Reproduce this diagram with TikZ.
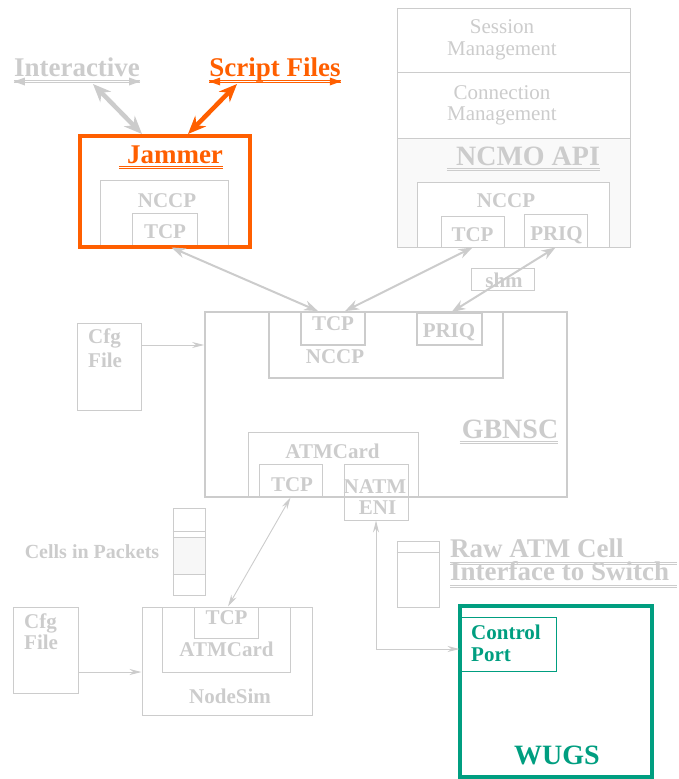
\documentclass[tikz,border=0pt]{standalone}
\usepackage{fontspec}
\setmainfont{Liberation Serif}
\usepackage{tikz}
\usetikzlibrary{arrows.meta}
\definecolor{lgray}{RGB}{204,204,204}
\definecolor{jamorange}{RGB}{255,95,0}
\definecolor{wugsgreen}{RGB}{0,158,128}

\begin{document}
\begin{tikzpicture}[x=1pt, y=-1pt, >={Stealth[length=13pt,width=8pt]},
  box/.style={draw=lgray, line width=1pt, inner sep=0pt},
  thickbox/.style={box, line width=1.8pt},
  big/.style={inner sep=0pt, anchor=base, text=lgray, font=\bfseries\fontsize{27}{27}\selectfont},
  small/.style={inner sep=0pt, anchor=base, text=lgray, font=\bfseries\fontsize{21}{21}\selectfont},
  plain/.style={inner sep=0pt, anchor=base, text=lgray, font=\fontsize{21}{21}\selectfont},
  uline/.style={line width=0.9pt},
  link/.style={lgray, line width=2pt, <->, >={Stealth[length=14pt,width=10pt]}},
  thin link/.style={lgray, line width=0.9pt, >={Stealth[length=12pt,width=6pt]}},
  fat link/.style={line width=4.5pt, <->, >={Stealth[length=18pt,width=15pt]}}]%

\useasboundingbox (0,0) rectangle (678,779);

% ncmo stack
\node [box, fill=gray!5, minimum width=233, minimum height=109] (ncmo) at (513.5,192.5) {};
\node [box, fill=white, minimum width=192, minimum height=65] (ncmo-nccp) at (513,214.5) {};

\foreach \n/\cx/\cy/\w/\h in {session/513.5/40/233/64, connection/513.5/105/233/66,
    ncmo-tcp/472.5/231.5/63/31, ncmo-priq/555.5/230.5/63/33, shm/502.5/279/63/22,
    jam-nccp/164/213.5/128/67, jam-tcp/164.5/230/65/34,
    gb-atm/333/464.5/170/65, gb-atm-tcp/290.5/480.5/63/33, natm/376/492/64/56,
    cfg1/109/366.5/64/87, cfg2/45.5/650/65/86,
    nodesim/227/661/170/108, ns-atm/226/639.5/128/65, ns-tcp/226/622.5/64/31}
  \node [box, minimum width=\w, minimum height=\h] (\n) at (\cx,\cy) {};

\foreach \n/\cx/\cy/\w/\h in {gbnsc/386/404.5/362/185, gb-nccp/386/345/234/66,
    gb-tcp/333/328.5/64/33, gb-priq/449.5/329/65/32}
  \node [thickbox, minimum width=\w, minimum height=\h] (\n) at (\cx,\cy) {};

% packet and cell icons
\node [box, minimum width=32, minimum height=87] (cells) at (189,551.5) {};
\fill [gray!6] ([xshift=1pt]cells.west |- 0,537) rectangle ([xshift=-1pt]cells.east |- 0,574);
\foreach \y in {531,537,574}
  \draw [lgray, line width=0.8pt] (cells.west |- 0,\y) -- (cells.east |- 0,\y);
\node [box, minimum width=42, minimum height=66] (raw) at (418,574) {};
\draw [lgray, line width=0.8pt] (raw.west |- 0,552) -- (raw.east |- 0,552);

\node [draw=jamorange, line width=4pt, inner sep=0pt, minimum width=170, minimum height=111] (jammer) at (165,191.5) {};
\node [draw=wugsgreen, line width=4pt, inner sep=0pt, minimum width=192, minimum height=171] (wugs) at (556,691.5) {};
\node [draw=wugsgreen, line width=1pt, inner sep=0pt, minimum width=96, minimum height=54] (ctrl) at (508,644) {};

% labels
\node [big] (interactive) at (77,76) {Interactive};
\node [big, text=jamorange] (script) at (275,76) {Script Files};
\node [big, text=jamorange] (jammer-lbl) at (175,163) {Jammer};
\node [small] (jam-nccp-lbl) at (167,207) {NCCP};
\node [small] (jam-tcp-lbl) at (165,238) {TCP};

\node [plain] (session-1) at (502,33) {Session};
\node [plain] (session-2) at (502,55) {Management};
\node [plain] (connection-1) at (502,99) {Connection};
\node [plain] (connection-2) at (502,120) {Management};
\node [big, font=\bfseries\fontsize{28}{28}\selectfont] (ncmo-lbl) at (528,165) {NCMO API};
\node [small] (ncmo-nccp-lbl) at (506,207) {NCCP};
\node [small] (ncmo-tcp-lbl) at (472.5,241) {TCP};
\node [small] (ncmo-priq-lbl) at (556.5,240) {PRIQ};
\node [small] (shm-lbl) at (504,287) {shm};

\node [small] (gb-tcp-lbl) at (333,330) {TCP};
\node [small] (gb-nccp-lbl) at (335,363) {NCCP};
\node [small] (gb-priq-lbl) at (449,337) {PRIQ};
\node [big, font=\bfseries\fontsize{28}{28}\selectfont] (gbnsc-lbl) at (510,438) {GBNSC};
\node [small] (gb-atm-lbl) at (332.5,458) {ATMCard};
\node [small] (gb-atm-tcp-lbl) at (292,491) {TCP};
\node [small] (natm-1) at (375,493) {NATM};
\node [small] (natm-2) at (377.5,514) {ENI};

\node [small, anchor=base west] (cfg1-1) at (88,343) {Cfg};
\node [small, anchor=base west] (cfg1-2) at (88,367) {File};
\node [small, font=\bfseries\fontsize{20}{20}\selectfont] (cells-lbl) at (92,558) {Cells in Packets};
\node [small, anchor=base west] (cfg2-1) at (24,628) {Cfg};
\node [small, anchor=base west] (cfg2-2) at (24,649) {File};
\node [small] (ns-tcp-lbl) at (226.5,624) {TCP};
\node [small] (ns-atm-lbl) at (226.5,656) {ATMCard};
\node [small] (nodesim-lbl) at (230,703) {NodeSim};

\node [big, anchor=base west] (raw-1) at (450,557) {Raw ATM Cell};
\node [big, anchor=base west] (raw-2) at (450,580) {Interface to Switch};
\node [small, anchor=base west, text=wugsgreen] (ctrl-1) at (471,639) {Control};
\node [small, anchor=base west, text=wugsgreen] (ctrl-2) at (471,661) {Port};
\node [big, text=wugsgreen, font=\bfseries\fontsize{28}{28}\selectfont] (wugs-lbl) at (557,764) {WUGS};

% underlines (two thin rules each)
\foreach \n/\c in {interactive/lgray, script/jamorange} {
  \fill [\c] ([yshift=-5.5pt]\n.base west) -- ++(11pt,4pt) -- ++(0,-8pt) -- cycle;
  \fill [\c] ([yshift=-5.5pt]\n.base east) -- ++(-11pt,4pt) -- ++(0,-8pt) -- cycle;
  \foreach \d in {4.4,6.6}
    \draw [uline, \c] ([yshift=-\d pt]\n.base west) -- ([yshift=-\d pt]\n.base east);
}
\foreach \d in {3.5,5.7} {
  \draw [uline, jamorange] ([xshift=-8pt,yshift=-\d pt]jammer-lbl.base west) -- ([yshift=-\d pt]jammer-lbl.base east);
  \draw [uline, lgray] ([xshift=-9pt,yshift=-\d pt]ncmo-lbl.base west) -- ([yshift=-\d pt]ncmo-lbl.base east);
  \draw [uline, lgray] ([xshift=-2pt,yshift=-\d pt]gbnsc-lbl.base west) -- ([yshift=-\d pt]gbnsc-lbl.base east);
}
\foreach \n in {raw-1, raw-2}
  \foreach \d in {5,7.2}
    \draw [uline, lgray] ([yshift=-\d pt]\n.base west) -- ([yshift=-\d pt, xshift=227pt]\n.base west);

% connectors
\draw [fat link, lgray] ([xshift=16pt,yshift=-8pt]interactive.base) -- ([xshift=-23pt]jammer.north);
\draw [fat link, jamorange] ([xshift=-38pt,yshift=-8pt]script.base) -- ([xshift=23pt]jammer.north);

\draw [link] ([xshift=7pt]jam-tcp.south) -- ([xshift=-15pt]gb-tcp.north);
\draw [link] (ncmo-tcp.south) -- ([xshift=12pt]gb-tcp.north);
\draw [link] (ncmo-priq.south) -- ([xshift=2pt]gb-priq.north);

\draw [thin link, ->] (cfg1.east |- gb-nccp) -- (gbnsc.west |- gb-nccp);
\draw [thin link, ->] ([yshift=-22pt]cfg2.east) -- ([yshift=-22pt]cfg2.east -| nodesim.west);
\draw [thin link, <->] (gb-atm-tcp.south) -- ([xshift=2pt]ns-tcp.north);
\draw [thin link, <->] (natm.south) |- ([yshift=-5pt]ctrl.west);

\end{tikzpicture}
\end{document}
